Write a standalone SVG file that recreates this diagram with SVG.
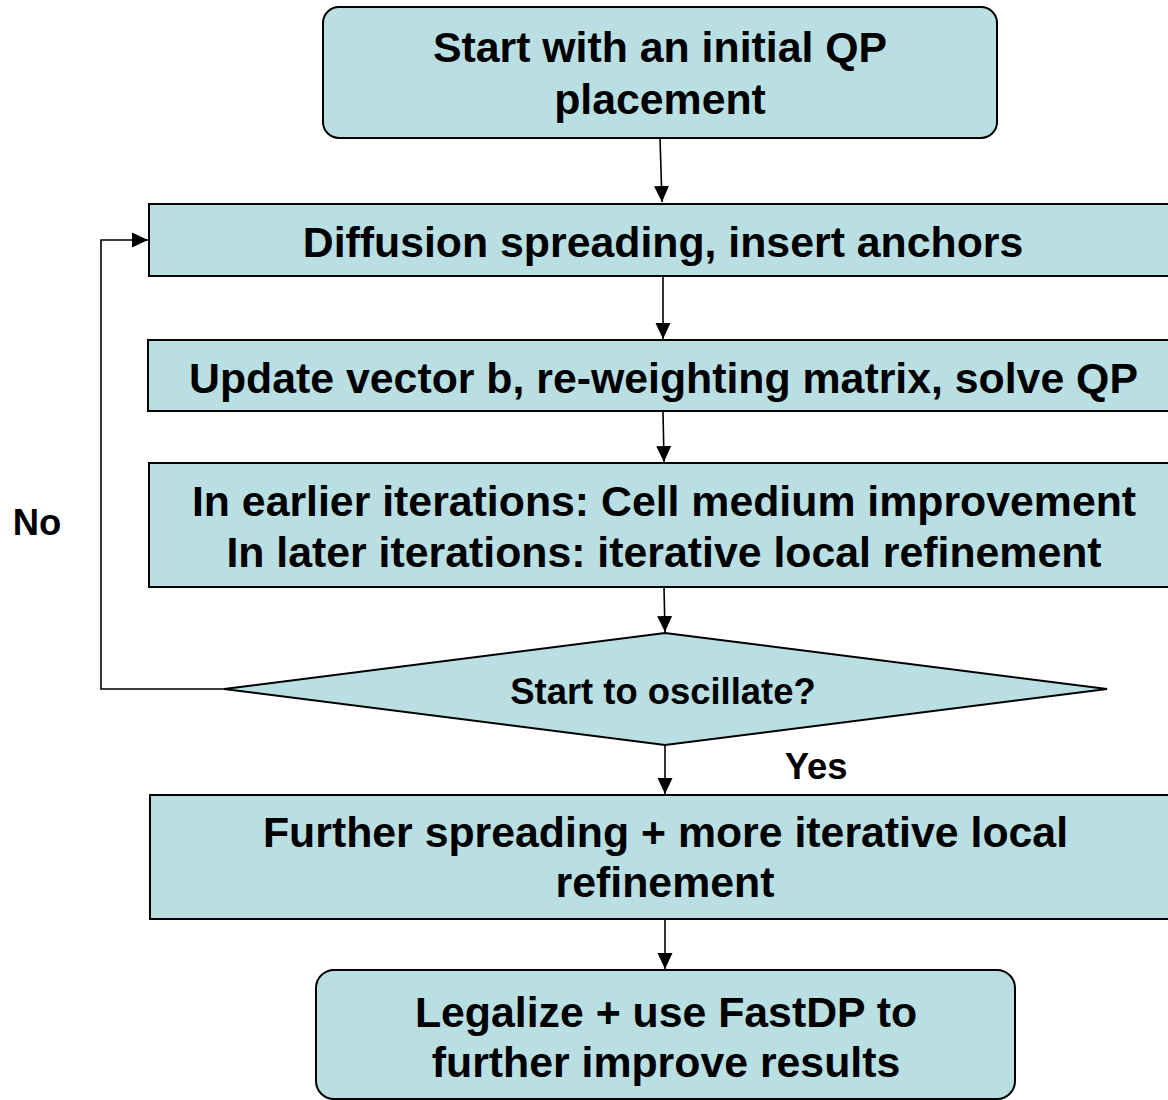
<svg xmlns="http://www.w3.org/2000/svg" width="1168" height="1100" viewBox="0 0 1168 1100">
<style>
.node{fill:#BADFE3;stroke:#000;stroke-width:2}
.t{font-family:"Liberation Sans",Arial,sans-serif;font-weight:bold;font-size:42.8px;fill:#000;text-anchor:middle}
.s{font-size:36.4px}
.c{fill:none;stroke:#000;stroke-width:1.6}
</style>
<defs>
<marker id="ah" markerUnits="userSpaceOnUse" markerWidth="17" markerHeight="17" viewBox="0 0 17 17" refX="16" refY="8.5" orient="auto">
<path d="M0,1 L16,8.5 L0,16 Z" fill="#000"/>
</marker>
</defs>
<rect width="1168" height="1100" fill="#fff"/>
<g id="connectors">
<line class="c" x1="660" y1="138" x2="662" y2="202" marker-end="url(#ah)"/>
<line class="c" x1="663" y1="277" x2="663" y2="339" marker-end="url(#ah)"/>
<line class="c" x1="663" y1="411" x2="664" y2="462" marker-end="url(#ah)"/>
<line class="c" x1="664" y1="587" x2="665" y2="632" marker-end="url(#ah)"/>
<line class="c" x1="665" y1="745" x2="665" y2="794" marker-end="url(#ah)"/>
<line class="c" x1="665" y1="920" x2="665" y2="969" marker-end="url(#ah)"/>
<polyline class="c" points="224,689 101,689 101,240 148,240" marker-end="url(#ah)"/>
<text class="t s" x="37" y="535">No</text>
<text class="t s" x="816" y="779">Yes</text>
</g>
<g id="n1">
<rect class="node" x="323" y="7" width="674" height="131" rx="16"/>
<text class="t" x="660" y="62">Start with an initial QP</text>
<text class="t" x="660" y="114">placement</text>
</g>
<g id="n2">
<rect class="node" x="149" y="204" width="1030" height="72"/>
<text class="t" x="663" y="257">Diffusion spreading, insert anchors</text>
</g>
<g id="n3">
<rect class="node" x="148" y="340" width="1030" height="71"/>
<text class="t" x="663.5" y="393">Update vector b, re-weighting matrix, solve QP</text>
</g>
<g id="n4">
<rect class="node" x="149" y="463" width="1030" height="124"/>
<text class="t" x="664" y="516">In earlier iterations: Cell medium improvement</text>
<text class="t" x="664" y="567">In later iterations: iterative local refinement</text>
</g>
<g id="n5">
<polygon class="node" points="665,633 1107,689 665,745 224,689"/>
<text class="t s" x="663" y="704">Start to oscillate?</text>
</g>
<g id="n6">
<rect class="node" x="150" y="795" width="1030" height="124"/>
<text class="t" x="665.5" y="847">Further spreading + more iterative local</text>
<text class="t" x="665" y="897">refinement</text>
</g>
<g id="n7">
<rect class="node" x="316" y="970" width="699" height="129" rx="18"/>
<text class="t" x="666" y="1027">Legalize + use FastDP to</text>
<text class="t" x="666" y="1077">further improve results</text>
</g>
</svg>
